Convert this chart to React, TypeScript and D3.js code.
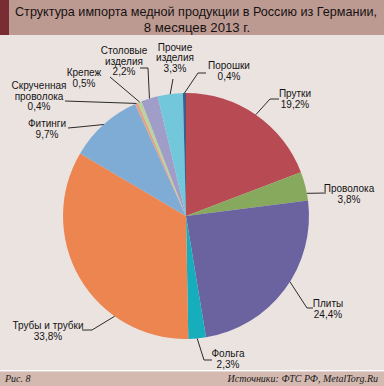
import React from 'react';
import * as d3 from 'd3';

const categories = ['Прутки', 'Проволока', 'Плиты', 'Фольга', 'Трубы и трубки', 'Фитинги', 'Скрученная проволока', 'Крепеж', 'Столовые изделия', 'Прочие изделия', 'Порошки'];
const shares = [19.2, 3.8, 24.4, 2.3, 33.8, 9.7, 0.4, 0.5, 2.2, 3.3, 0.4];
const shareLabels = ['19,2%', '3,8%', '24,4%', '2,3%', '33,8%', '9,7%', '0,4%', '0,5%', '2,2%', '3,3%', '0,4%'];
const colors = ['#b84a54', '#86a95e', '#6b62a0', '#16aebd', '#ec8550', '#7eacd5', '#e5a08a', '#b7d59c', '#a19dc9', '#72c8da', '#3e5c8e'];

// label layout: text lines, text centre x, first baseline, leader (point on slice as fraction, then bends)
const labelLayout = [
  { lines: ['Прутки'], x: 295, y: 97, at: 0.5, pts: [[270, 99], [279, 99]] },
  { lines: ['Проволока'], x: 349, y: 192, at: 0.75, pts: [[326, 193]] },
  { lines: ['Плиты'], x: 328, y: 307, at: 0.45, pts: [[307, 308], [313, 308]] },
  { lines: ['Фольга'], x: 228, y: 357, at: 0.5, pts: [[204, 360], [212, 360]] },
  { lines: ['Трубы и трубки'], x: 48, y: 329, at: 0.3, pts: [[92, 330], [82, 330]] },
  { lines: ['Фитинги'], x: 47, y: 127, at: 0.5, pts: [[79, 127], [68, 128]] },
  { lines: ['Скрученная', 'проволока'], x: 39, y: 89, at: 0.5, pts: [[65, 101]] },
  { lines: ['Крепеж'], x: 84, y: 76, at: 0.5, pts: [[110, 77]] },
  { lines: ['Столовые', 'изделия'], x: 124, y: 54, at: 0.5, pts: [[148, 68], [140, 68]] },
  { lines: ['Прочие', 'изделия'], x: 175, y: 50.5, at: 0.5, pts: [[173, 79]] },
  { lines: ['Порошки'], x: 229, y: 69, at: 0.5, pts: [[198, 73], [206, 73]] },
];

const W = 384;
const H = 386;
const cx = 186;
const cy = 216;
const R = 123;

export default function App() {
  const data = categories.map((c, i) => ({ name: c, value: shares[i], label: shareLabels[i], color: colors[i] }));
  const pie = d3.pie<any>().sort(null).value(d => d.value).startAngle(0).endAngle(2 * Math.PI);
  const arcs = pie(data);
  const arc = d3.arc<any>().innerRadius(0).outerRadius(R);

  const font = '"Liberation Sans", Arial, sans-serif';
  const serif = '"Liberation Serif", "Times New Roman", serif';

  return (
    <svg width={W} height={H} style={{ position: 'absolute', left: 0, top: 0 }}>
      <rect x={0} y={0} width={W} height={H} fill="#ebe3e0" />
      <rect x={0} y={0} width={W} height={35} fill="#bd9a91" />
      <rect x={0} y={0} width={9} height={35} fill="#7a2c33" />
      <text x={196} y={16} textAnchor="middle" fontFamily={font} fontSize={12.8} fill="#161111"
        textLength={362} lengthAdjust="spacingAndGlyphs">
        Структура импорта медной продукции в Россию из Германии,
      </text>
      <text x={197} y={32} textAnchor="middle" fontFamily={font} fontSize={13.2} fill="#161111">
        8 месяцев 2013 г.
      </text>

      <g transform={`translate(${cx},${cy})`}>
        {arcs.map((a, i) => (
          <path key={i} d={arc(a) as string} fill={a.data.color} />
        ))}
      </g>

      {arcs.map((a, i) => {
        const l = labelLayout[i];
        const ang = a.startAngle + (a.endAngle - a.startAngle) * l.at;
        const sx = cx + R * Math.sin(ang);
        const sy = cy - R * Math.cos(ang);
        const pts: [number, number][] = [[sx, sy], ...(l.pts as [number, number][])];
        const lines = [...l.lines, a.data.label];
        return (
          <g key={i}>
            <path d={d3.line()(pts) as string} fill="none" stroke="#2a2a2a" strokeWidth={1} />
            <text fontFamily={font} fontSize={10} fill="#141414" textAnchor="middle">
              {lines.map((t, j) => (
                <tspan key={j} x={l.x} y={l.y + j * 10.7}>{t}</tspan>
              ))}
            </text>
          </g>
        );
      })}

      <rect x={0} y={370} width={W} height={1.5} fill="#ffffff" />
      <rect x={0} y={371.5} width={W} height={H - 371.5} fill="#d3b9b0" />
      <text x={5} y={382} fontFamily={serif} fontStyle="italic" fontSize={10} fill="#1a1a1a">
        Рис. 8
      </text>
      <text x={378} y={382} textAnchor="end" fontFamily={serif} fontStyle="italic" fontSize={10} fill="#1a1a1a">
        Источники: ФТС РФ, MetalTorg.Ru
      </text>
    </svg>
  );
}
